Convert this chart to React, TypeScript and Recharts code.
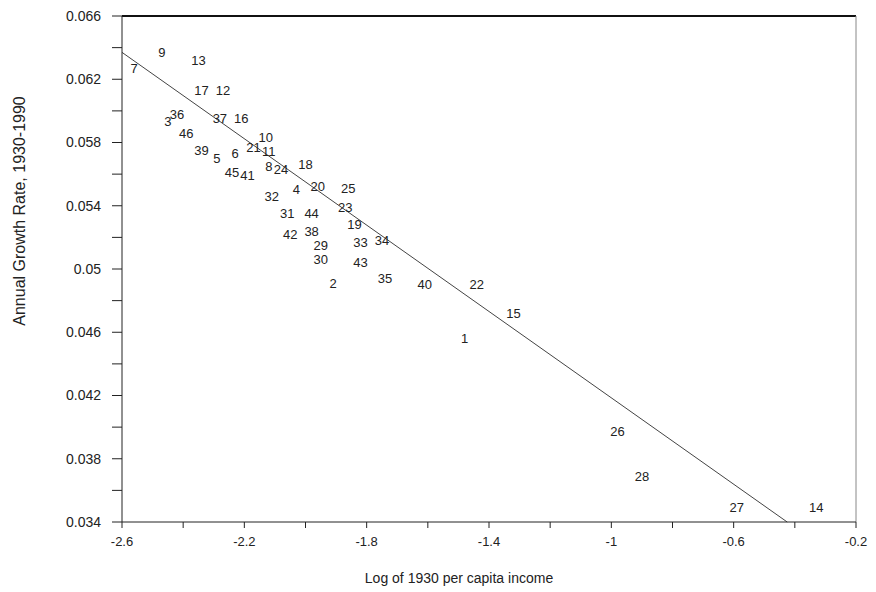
import React from 'react';
import { ScatterChart, Scatter, XAxis, YAxis, ReferenceLine } from 'recharts';

const countryIds = [1,2,3,4,5,6,7,8,9,10,11,12,13,14,15,16,17,18,19,20,21,22,23,24,25,26,27,28,29,30,31,32,33,34,35,36,37,38,39,40,41,42,43,44,45,46];
const logIncome1930 = [-1.48,-1.91,-2.45,-2.03,-2.29,-2.23,-2.56,-2.12,-2.47,-2.13,-2.12,-2.27,-2.35,-0.33,-1.32,-2.21,-2.34,-2.0,-1.84,-1.96,-2.17,-1.44,-1.87,-2.08,-1.86,-0.98,-0.59,-0.9,-1.95,-1.95,-2.06,-2.11,-1.82,-1.75,-1.74,-2.42,-2.28,-1.98,-2.34,-1.61,-2.19,-2.05,-1.82,-1.98,-2.24,-2.39];
const growthRate = [0.0456,0.0491,0.0593,0.055,0.057,0.0573,0.0627,0.0565,0.0637,0.0583,0.0574,0.0613,0.0632,0.0349,0.0472,0.0595,0.0613,0.0566,0.0528,0.0552,0.0577,0.049,0.0539,0.0563,0.0551,0.0397,0.0349,0.0369,0.0515,0.0506,0.0535,0.0546,0.0517,0.0518,0.0494,0.0598,0.0595,0.0524,0.0575,0.049,0.0559,0.0522,0.0504,0.0535,0.0561,0.0586];

const regressionX = [-2.6, -0.425];
const regressionY = [0.0637, 0.034];

const xTicks = [-2.6,-2.4,-2.2,-2.0,-1.8,-1.6,-1.4,-1.2,-1.0,-0.8,-0.6,-0.4,-0.2];
const xTickLabels = ['-2.6','','-2.2','','-1.8','','-1.4','','-1','','-0.6','','-0.2'];
const yTicks = [0.034,0.036,0.038,0.040,0.042,0.044,0.046,0.048,0.050,0.052,0.054,0.056,0.058,0.060,0.062,0.064,0.066];
const yTickLabels = ['0.034','','0.038','','0.042','','0.046','','0.05','','0.054','','0.058','','0.062','','0.066'];

const points = countryIds.map((id, i) => ({ id, x: logIncome1930[i], y: growthRate[i] }));

const FONT = '"Liberation Sans", Arial, sans-serif';

const fmt = (ticks: number[], labels: string[]) => (v: number) => {
  let best = 0;
  ticks.forEach((t, i) => { if (Math.abs(t - v) < Math.abs(ticks[best] - v)) best = i; });
  return labels[best];
};

const LabelShape = (props: any) => (
  <text x={props.cx} y={props.cy} textAnchor="middle" dominantBaseline="central"
    fontFamily={FONT} fontSize={13} fill="#222">{props.payload.id}</text>
);

const XTitle = () => (
  <text x={459} y={578} textAnchor="middle" dominantBaseline="central" fontFamily={FONT} fontSize={14} fill="#222">
    Log of 1930 per capita income
  </text>
);
const YTitle = () => (
  <text x={19} y={211} transform="rotate(-90 19 211)" textAnchor="middle" dominantBaseline="central" fontFamily={FONT} fontSize={16} fill="#222">
    Annual Growth Rate, 1930-1990
  </text>
);

export default function App() {
  return (
    <div style={{ position: 'absolute', left: 0, top: 0, background: '#fff' }}>
      <ScatterChart width={876} height={592} margin={{ top: 16, right: 20, bottom: 40, left: 50 }}>
        <XAxis type="number" dataKey="x" domain={[-2.6, -0.2]} ticks={xTicks} interval={0}
          tickFormatter={fmt(xTicks, xTickLabels)} height={30} tickSize={6} tickMargin={9}
          stroke="#222" tick={{ fill: '#222', fontSize: 13, fontFamily: FONT }} label={XTitle} allowDataOverflow />
        <YAxis type="number" dataKey="y" domain={[0.034, 0.066]} ticks={yTicks} interval={0}
          tickFormatter={fmt(yTicks, yTickLabels)} width={72} tickSize={10} tickMargin={11}
          stroke="#222" tick={{ fill: '#222', fontSize: 14, fontFamily: FONT }} label={YTitle} allowDataOverflow />
        <ReferenceLine y={0.066} stroke="#111" strokeWidth={2} />
        <ReferenceLine x={-0.2} stroke="#888" strokeWidth={1} />
        <ReferenceLine segment={[{ x: regressionX[0], y: regressionY[0] }, { x: regressionX[1], y: regressionY[1] }]}
          stroke="#444" strokeWidth={1} />
        <Scatter data={points} shape={LabelShape} isAnimationActive={false} />
      </ScatterChart>
    </div>
  );
}
